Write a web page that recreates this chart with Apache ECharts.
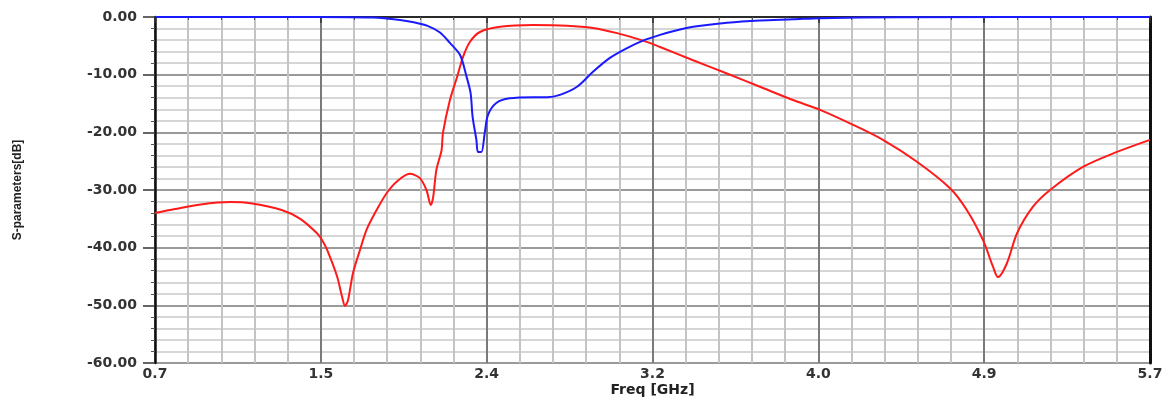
<!DOCTYPE html>
<html>
<head>
<meta charset="utf-8">
<script src="https://cdn.jsdelivr.net/npm/echarts@6/dist/echarts.min.js"></script>
<style>html,body{margin:0;padding:0;background:#fff;}#c{width:1163px;height:397px;}</style>
</head>
<body>
<div id="c"></div>
<script>
// Red trace (S21) - frequency in GHz, magnitude in dB
const redFreq = [0.70,0.80,0.93,1.08,1.18,1.34,1.43,1.514,1.54,1.565,1.615,1.64,1.655,1.67,1.695,1.73,1.763,1.813,1.863,1.913,1.98,2.03,2.064,2.086,2.098,2.114,2.14,2.147,2.182,2.218,2.248,2.283,2.333,2.434,2.600,2.770,2.901,3.022,3.152,3.238,3.404,3.574,3.740,3.906,4.042,4.208,4.358,4.529,4.695,4.780,4.861,4.911,4.936,4.981,5.032,5.112,5.198,5.363,5.534,5.700];
const redDb = [-34.0,-33.3,-32.5,-32.1,-32.3,-33.5,-35.0,-37.5,-38.7,-40.4,-45.0,-48.5,-50.1,-49.1,-44.4,-40.4,-36.9,-33.5,-30.6,-28.6,-27.2,-27.9,-30.0,-32.6,-31.2,-26.5,-23.1,-20.1,-14.4,-10.4,-6.9,-4.3,-2.6,-1.7,-1.4,-1.5,-1.9,-2.8,-4.1,-5.2,-7.5,-9.8,-12.1,-14.4,-16.1,-18.7,-21.3,-25.1,-29.7,-33.5,-38.7,-43.3,-45.1,-42.7,-37.5,-32.9,-30.0,-26.0,-23.4,-21.3];
// Blue trace (S11)
const blueFreq = [0.70,1.50,1.795,1.931,2.00,2.067,2.132,2.182,2.233,2.266,2.286,2.296,2.315,2.323,2.340,2.357,2.373,2.415,2.482,2.600,2.670,2.735,2.821,2.901,2.986,3.072,3.152,3.238,3.323,3.404,3.574,3.740,3.906,4.042,4.44,5.70];
const blueDb = [0,0,-0.1,-0.5,-0.9,-1.5,-2.7,-4.5,-6.6,-10.4,-13.2,-17.3,-21.3,-23.4,-23.4,-20.1,-17.0,-14.9,-14.1,-13.9,-13.9,-13.5,-12.1,-9.5,-7.1,-5.4,-4.1,-3.1,-2.3,-1.7,-1.0,-0.6,-0.4,-0.2,-0.05,0];

const xMin = 0.7, xMax = 5.7, xStep = 5 / 6;
const yMin = -60, yMax = 0, yStep = 10;

const zip = (a, b) => a.map((v, i) => [v, b[i]]);
const font = 'DejaVu Sans, Verdana, sans-serif';

const chart = echarts.init(document.getElementById('c'), null, {renderer: 'canvas'});
chart.setOption({
  animation: false,
  backgroundColor: '#ffffff',
  grid: {left: 155, right: 13, top: 17, bottom: 34, show: false, outerBoundsMode: 'none', containLabel: false},
  xAxis: [{
    type: 'value', min: xMin, max: xMax, interval: xStep,
    name: 'Freq [GHz]', nameLocation: 'middle', nameGap: 20, nameMoveOverlap: false,
    nameTextStyle: {fontFamily: font, fontWeight: 'bold', fontSize: 14, color: '#222', verticalAlign: 'top'},
    axisLine: {show: true, lineStyle: {color: '#111', width: 2}},
    axisTick: {show: true, length: 6, lineStyle: {color: '#333', width: 1.5}},
    minorTick: {show: true, splitNumber: 5, length: 3, lineStyle: {color: '#555', width: 1}},
    axisLabel: {fontFamily: font, fontWeight: 'bold', fontSize: 14, color: '#333', margin: 4,
      formatter: v => (Math.round(v * 10) / 10).toFixed(1)},
    splitLine: {show: true, lineStyle: {color: '#7a7a7a', width: 2}},
    minorSplitLine: {show: true, lineStyle: {color: '#c4c4c4', width: 2}}
  }, {
    type: 'value', min: xMin, max: xMax, position: 'top',
    axisLine: {show: true, lineStyle: {color: '#333', width: 1.5}},
    axisTick: {show: false}, axisLabel: {show: false}, splitLine: {show: false}
  }],
  yAxis: [{
    type: 'value', min: yMin, max: yMax, interval: yStep,
    name: 'S-parameters[dB]', nameLocation: 'middle', nameGap: 131, nameRotate: 90,
    nameTextStyle: {fontFamily: 'Liberation Sans, Arial, sans-serif', fontWeight: 'bold', fontSize: 12, color: '#222'},
    axisLine: {show: true, lineStyle: {color: '#111', width: 2.5}},
    axisTick: {show: true, length: 12, lineStyle: {color: '#333', width: 1.5}},
    minorTick: {show: true, splitNumber: 5, length: 4, lineStyle: {color: '#555', width: 1}},
    axisLabel: {fontFamily: font, fontWeight: 'bold', fontSize: 14, color: '#333', margin: 18,
      formatter: v => v.toFixed(2)},
    splitLine: {show: true, lineStyle: {color: '#9a9a9a', width: 2}},
    minorSplitLine: {show: true, lineStyle: {color: '#d6d6d6', width: 2}}
  }, {
    type: 'value', min: yMin, max: yMax, position: 'right',
    axisLine: {show: true, lineStyle: {color: '#111', width: 3}},
    axisTick: {show: false}, axisLabel: {show: false}, splitLine: {show: false}
  }],
  series: [{
    type: 'line', name: 'S21', data: zip(redFreq, redDb), showSymbol: false, smooth: 0.3,
    lineStyle: {color: '#ff1a1a', width: 2}, z: 3
  }, {
    type: 'line', name: 'S11', data: zip(blueFreq, blueDb), showSymbol: false, smooth: 0.3,
    lineStyle: {color: '#1a1aff', width: 2}, z: 4
  }]
});
</script>
</body>
</html>
